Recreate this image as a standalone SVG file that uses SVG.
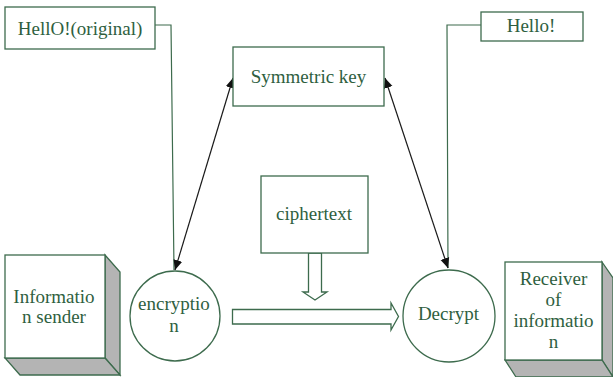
<svg xmlns="http://www.w3.org/2000/svg" width="613" height="377" viewBox="0 0 613 377">
  <defs>
    <style>
      .box { fill: #ffffff; stroke: #3d6b4d; stroke-width: 1.3; }
      .side { fill: #b4b4b4; stroke: #3d6b4d; stroke-width: 1.3; }
      .lbl { font-family: 'Liberation Serif', 'DejaVu Serif', serif; font-size: 19px; fill: #2f5f3f; text-anchor: middle; }
      .wire { fill: none; stroke: #3d6b4d; stroke-width: 1.2; }
      .key { fill: none; stroke: #1a1a1a; stroke-width: 1.2; }
      .block { fill: #ffffff; stroke: #3d6b4d; stroke-width: 1.3; }
    </style>
    <marker id="tip" viewBox="0 0 10 10" refX="10" refY="5" markerWidth="10" markerHeight="10" markerUnits="userSpaceOnUse" orient="auto-start-reverse">
      <path d="M0,0.5 L10,5 L0,9.5 Z" fill="#111111"/>
    </marker>
  </defs>

  <!-- connectors -->
  <g id="connectors">
    <polyline class="wire" points="155,25 171,25 174,270"/>
    <polyline class="wire" points="481,25 447,25 448,268"/>
    <line class="key" x1="233" y1="78" x2="175" y2="270" marker-start="url(#tip)" marker-end="url(#tip)"/>
    <line class="key" x1="385" y1="78" x2="448" y2="268" marker-start="url(#tip)" marker-end="url(#tip)"/>
    <!-- ciphertext feeds down into the transfer arrow -->
    <path class="block" d="M308.5,253 L321.5,253 L321.5,292 L327,292 L315,300 L303,292 L308.5,292 Z"/>
    <!-- transfer arrow from encryption to decryption -->
    <path class="block" d="M232.5,309.5 L391,309.5 L391,303 L398.5,316.5 L391,330 L391,324 L232.5,324 Z"/>
  </g>

  <g id="original">
    <rect class="box" x="5" y="7" width="150" height="42"/>
    <text class="lbl" font-family="Liberation Serif, DejaVu Serif, serif" x="80" y="35">HellO!(original)</text>
  </g>

  <g id="received">
    <rect class="box" x="481" y="12" width="102" height="29"/>
    <text class="lbl" x="531" y="32">Hello!</text>
  </g>

  <g id="symmetric-key">
    <rect class="box" x="233" y="47" width="151" height="59"/>
    <text class="lbl" x="308.5" y="83">Symmetric key</text>
  </g>

  <g id="ciphertext">
    <rect class="box" x="261" y="176" width="107" height="77"/>
    <text class="lbl" x="314" y="220">ciphertext</text>
  </g>

  <g id="sender">
    <polygon class="side" points="105,255 120,272 120,375 105,358"/>
    <polygon class="side" points="5,358 105,358 120,375 20,375"/>
    <rect class="box" x="5" y="255" width="100" height="103"/>
    <text class="lbl" x="54" y="303">Informatio</text>
    <text class="lbl" x="54" y="323">n sender</text>
  </g>

  <g id="encryption">
    <circle class="box" cx="175" cy="316" r="45"/>
    <text class="lbl" x="174" y="310">encryptio</text>
    <text class="lbl" x="174" y="332">n</text>
  </g>

  <g id="decrypt">
    <circle class="box" cx="449" cy="316" r="46"/>
    <text class="lbl" x="448.5" y="320">Decrypt</text>
  </g>

  <g id="receiver">
    <polygon class="side" points="602,262 613,278 613,377 602,360"/>
    <polygon class="side" points="505,360 602,360 613,377 516,377"/>
    <rect class="box" x="505" y="262" width="97" height="98"/>
    <text class="lbl" x="553.5" y="285">Receiver</text>
    <text class="lbl" x="553.5" y="306">of</text>
    <text class="lbl" x="553.5" y="327">informatio</text>
    <text class="lbl" x="553.5" y="348">n</text>
  </g>
</svg>
